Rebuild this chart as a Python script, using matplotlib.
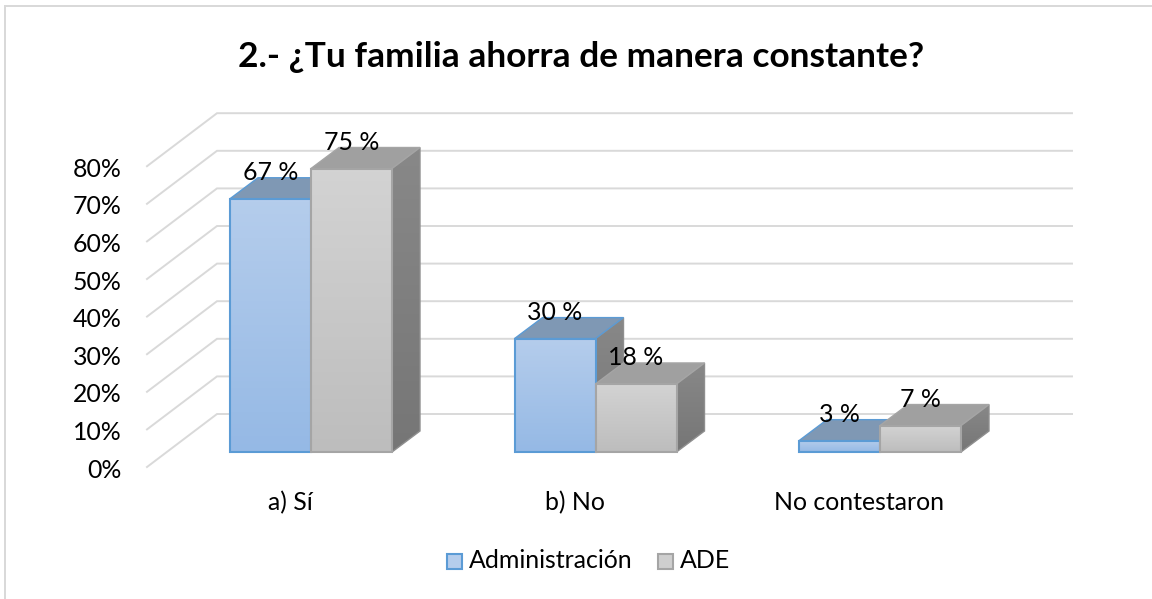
import numpy as np
import matplotlib
matplotlib.use('Agg')
import matplotlib.pyplot as plt
from matplotlib.colors import LinearSegmentedColormap
from matplotlib.patches import Polygon, Rectangle

plt.rcParams['font.family'] = ['Lato', 'DejaVu Sans']

# data
categories = ['a) Sí', 'b) No', 'No contestaron']
series_names = ['Administración', 'ADE']
administracion = [67, 30, 3]
ade = [75, 18, 7]
y_ticks = [0, 10, 20, 30, 40, 50, 60, 70, 80]
title = '2.- ¿Tu familia ahorra de manera constante?'

W, H = 1152, 599
PX_X = 284.5   # px per category
PX_Y = 3.78    # px per percent
X0 = 311       # px of first category centre
Y0 = 452       # px of bar floor

def px(x):
    return (x - X0) / PX_X

def py(y):
    return (Y0 - y) / PX_Y

BAR_W = 81 / PX_X
DEPTH_X = 28 / PX_X
DEPTH_Y = 21 / PX_Y
FS = 17.9

blue_cm = LinearSegmentedColormap.from_list('b', ['#95b9e5', '#b5cdec'])
gray_cm = LinearSegmentedColormap.from_list('g', ['#bdbdbd', '#d3d3d3'])
side_cm = LinearSegmentedColormap.from_list('s', ['#767676', '#888888'])
grad = np.linspace(1, 0, 64).reshape(-1, 1)

fig = plt.figure(figsize=(W / 100, H / 100), dpi=100)
ax = fig.add_axes([0, 0, 1, 1])
ax.axis('off')

# outer border, only top and left in the picture
ax.plot([px(5), px(5), px(W)], [py(H), py(6), py(6)], color='#d9d9d9', lw=1.44, solid_joinstyle='miter')

# walls
for t in y_ticks:
    y_front = py(467 - t * 3.76)
    y_back = py(414 - t * 3.76)
    ax.plot([px(147), px(217), px(1072)], [y_front, y_back, y_back],
            color='#d9d9d9', lw=1.4, zorder=1, solid_joinstyle='miter')
    ax.text(px(122), y_front - 1 / PX_Y, '%d%%' % t, ha='right', va='center_baseline', fontsize=FS, color='#000000')


def draw_bar(i, offset, value, cm, edge, top_col, z):
    x0 = i + offset
    x1 = x0 + BAR_W
    xd = DEPTH_X
    yd = DEPTH_Y
    # side
    side = Polygon([(x1, 0), (x1 + xd, yd), (x1 + xd, value + yd), (x1, value)], closed=True,
                   facecolor='none', edgecolor='none', zorder=z)
    ax.add_patch(side)
    im = ax.imshow(grad, cmap=side_cm, aspect='auto', vmin=0, vmax=1,
                   extent=(x1, x1 + xd, 0, value + yd), zorder=z)
    im.set_clip_path(side)
    ax.add_patch(Polygon([(x1, 0), (x1 + xd, yd), (x1 + xd, value + yd), (x1, value)], closed=True,
                         facecolor='none', edgecolor='#8f8f8f', lw=1, zorder=z))
    # top
    ax.add_patch(Polygon([(x0, value), (x0 + xd, value + yd), (x1 + xd, value + yd), (x1, value)],
                         closed=True, facecolor=top_col, edgecolor=edge, lw=1, zorder=z))
    # front
    ax.imshow(grad, cmap=cm, aspect='auto', vmin=0, vmax=1,
              extent=(x0, x1, 0, value), zorder=z + 0.1)
    ax.add_patch(Rectangle((x0, 0), BAR_W, value, facecolor='none', edgecolor=edge, lw=1.5, zorder=z + 0.2))


for i in range(len(categories)):
    draw_bar(i, -BAR_W, administracion[i], blue_cm, '#5b9bd5', '#7f98b4', 3)
    draw_bar(i, 0, ade[i], gray_cm, '#a5a5a5', '#a0a0a0', 4)
    ax.text(i - BAR_W / 2, administracion[i] + 26 / PX_Y, '%d %%' % administracion[i],
            ha='center', va='center', fontsize=FS, color='#000000', zorder=6)
    ax.text(i + BAR_W / 2, ade[i] + 26 / PX_Y, '%d %%' % ade[i],
            ha='center', va='center', fontsize=FS, color='#000000', zorder=6)
    ax.text(i - 21 / PX_X, py(503), categories[i], ha='center', va='center', fontsize=FS, color='#000000')

# title
ax.text(px(581), py(57), title, ha='center', va='center', fontsize=25.4, fontweight='bold', color='#000000')

# legend
swatches = [(447, 469, '#b5cdec', '#5b9bd5'), (658, 680, '#cfcfcf', '#a5a5a5')]
for name, (sx, tx, fc, ec) in zip(series_names, swatches):
    ax.add_patch(Rectangle((px(sx), py(569)), 15 / PX_X, 15 / PX_Y, facecolor=fc, edgecolor=ec, lw=1.5))
    ax.text(px(tx), py(561), name, ha='left', va='center', fontsize=FS, color='#000000')

ax.set_xlim(px(0), px(W))
ax.set_ylim(py(H), py(0))
fig.savefig('out.png', dpi=100)
